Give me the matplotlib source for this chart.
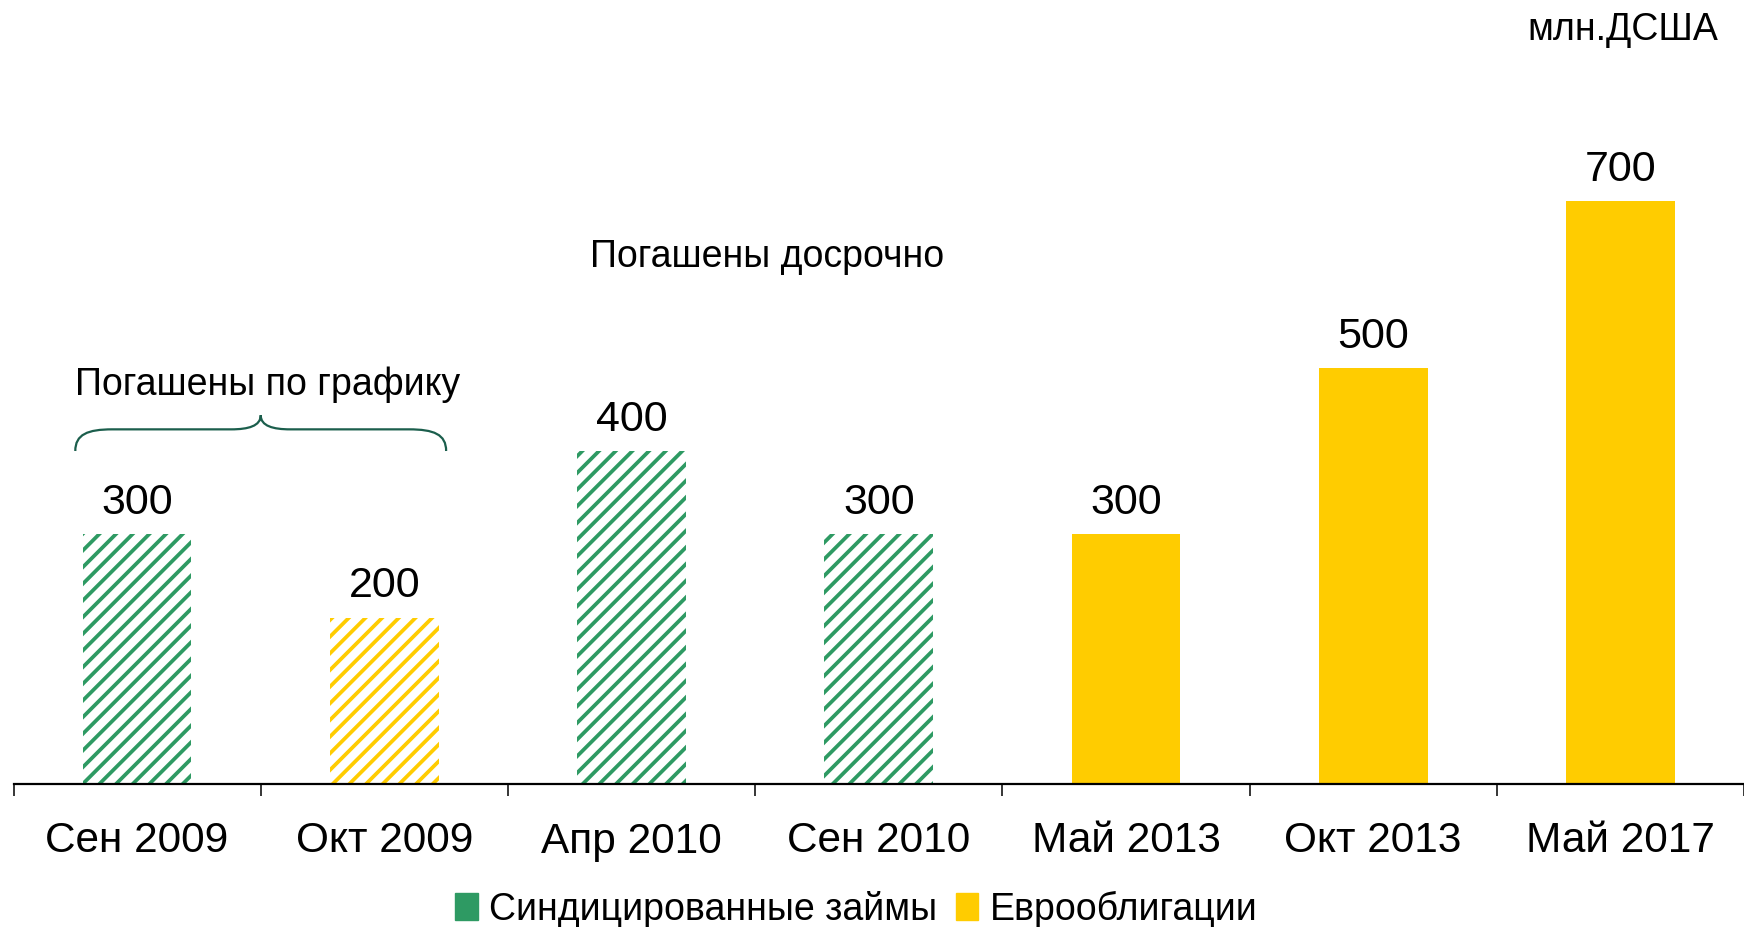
import matplotlib
matplotlib.use("Agg")
import matplotlib.pyplot as plt
import numpy as np
from matplotlib.patches import Patch, PathPatch
from matplotlib.path import Path

plt.rcParams['font.family'] = ['Liberation Sans', 'DejaVu Sans']
plt.rcParams['hatch.linewidth'] = 2.7

# data
periods = ['Сен 2009', 'Окт 2009', 'Апр 2010', 'Сен 2010',
           'Май 2013', 'Окт 2013', 'Май 2017']
amounts = [300, 200, 400, 300, 300, 500, 700]
kinds = ['loan', 'bond', 'loan', 'loan', 'bond', 'bond', 'bond']
repaid = [True, True, True, True, False, False, False]

GREEN = '#2e9a63'
YELLOW = '#ffcc00'
colors = {'loan': GREEN, 'bond': YELLOW}


def main():
    fig = plt.figure(figsize=(17.44, 9.27), dpi=100)
    ax = fig.add_axes([13.5 / 1744, 143 / 927, 1 - 13.5 / 1744, 666 / 927])

    x = np.arange(len(periods))
    for xi, val, kind, done in zip(x, amounts, kinds, repaid):
        c = colors[kind]
        if done:
            ax.bar(xi, val, width=0.44, facecolor='white', edgecolor=c,
                   hatch='//', linewidth=0)
        else:
            ax.bar(xi, val, width=0.44, color=c, linewidth=0)
        ax.annotate(f'{val}', (xi, val), xytext=(0, 8),
                    textcoords='offset points', ha='center', va='bottom',
                    fontsize=31)

    ax.set_xlim(-0.5, -0.5 + (1744 - 13.5) / 249)
    ax.set_ylim(0, 800)

    for s in ['top', 'right', 'left']:
        ax.spines[s].set_visible(False)
    ax.spines['bottom'].set_linewidth(1.6)
    ax.set_yticks([])
    ax.set_xticks(x)
    ax.set_xticklabels(periods, fontsize=30.5)
    ax.set_xticks(np.arange(-0.5, len(periods)), minor=True)
    ax.tick_params(axis='x', which='major', length=0, pad=27)
    ax.tick_params(axis='x', which='minor', length=8.6, width=1.1,
                   direction='out')

    # curly brace over the first two bars
    verts = [(-0.25, 400), (-0.25, 420), (-0.2, 426), (-0.1, 426),
             (0.38, 426),
             (0.45, 426), (0.5, 430), (0.5, 443),
             (0.5, 430), (0.55, 426), (0.62, 426),
             (1.1, 426),
             (1.2, 426), (1.25, 420), (1.25, 400)]
    codes = [Path.MOVETO, Path.CURVE4, Path.CURVE4, Path.CURVE4,
             Path.LINETO,
             Path.CURVE4, Path.CURVE4, Path.CURVE4,
             Path.CURVE4, Path.CURVE4, Path.CURVE4,
             Path.LINETO,
             Path.CURVE4, Path.CURVE4, Path.CURVE4]
    ax.add_patch(PathPatch(Path(verts, codes), facecolor='none',
                           edgecolor='#1b5e4c', linewidth=1.6, clip_on=False))

    ax.text(-0.25, 479, 'Погашены по графику', fontsize=27, va='center',
            ha='left')
    ax.text(1.83, 633, 'Погашены досрочно', fontsize=27, va='center',
            ha='left')
    fig.text(1718 / 1744, 1 - 30 / 927, 'млн.ДСША', fontsize=27,
             ha='right', va='center')

    handles = [Patch(color=GREEN, label='Синдицированные займы'),
               Patch(color=YELLOW, label='Еврооблигации')]
    fig.legend(handles=handles, loc='center',
               bbox_to_anchor=(0.491, 1 - 909 / 927),
               ncol=2, frameon=False, fontsize=27, handlelength=0.6,
               handleheight=0.75, handletextpad=0.3, columnspacing=0.5,
               borderpad=0)

    fig.savefig('out.png', dpi=100)


if __name__ == '__main__':
    main()
